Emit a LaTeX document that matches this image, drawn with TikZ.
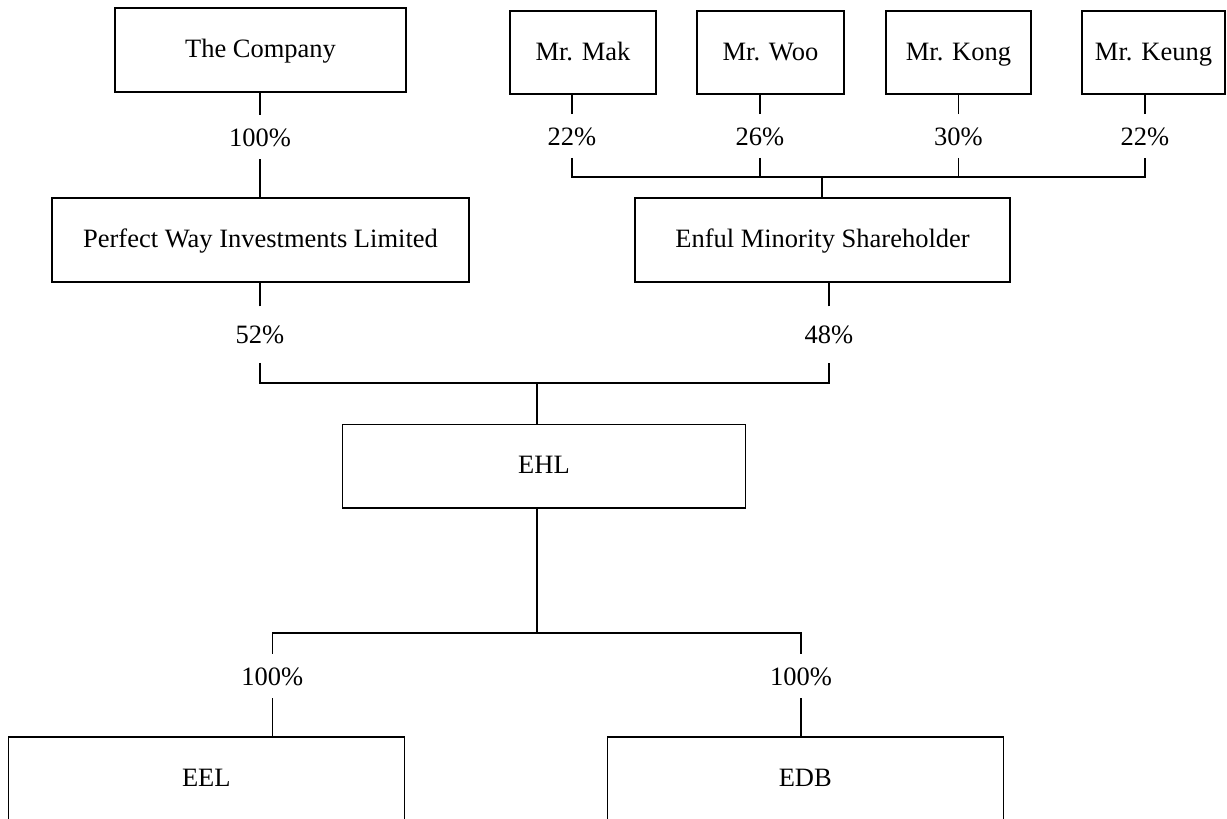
\documentclass[tikz,border=0pt]{standalone}
\usepackage{fontspec}
\setmainfont{Liberation Serif}
\begin{document}
\begin{tikzpicture}[x=1bp,y=-1bp,line width=1.5bp,
  box/.style={draw,rectangle,inner sep=0pt,minimum height=84bp,
    text height=17.5bp,text depth=2bp,
    font=\fontsize{26.6pt}{32pt}\selectfont},
  pct/.style={inner sep=0pt,minimum width=20bp,
    text height=18bp,text depth=0bp,
    font=\fontsize{26.6pt}{32pt}\selectfont}]
\useasboundingbox (0,0) rectangle (1227,819);
\clip (0,0) rectangle (1227,819);

% boxes
\node[box,minimum width=291bp] (comp) at (260.5,50) {The Company};
\node[box,minimum width=417bp] (pwil) at (260.5,240) {Perfect Way Investments Limited};
\node[box,minimum width=146bp,minimum height=83bp] (mak) at (583,52.3) {Mr. Mak};
\node[box,minimum width=147bp,minimum height=83bp] (woo) at (770.5,52.3) {Mr. Woo};
\node[box,minimum width=145bp,minimum height=83bp] (kong) at (958.5,52.3) {Mr. Kong};
\node[box,minimum width=143bp,minimum height=83bp] (keung) at (1153.5,52.3) {Mr. Keung};
\node[box,minimum width=375bp] (enful) at (822.5,240) {Enful Minority Shareholder};
\node[box,minimum width=403bp,minimum height=83.5bp] (ehl) at (544,466) {EHL};
\node[box,minimum width=396bp] (eel) at (206.3,779) {EEL};
\node[box,minimum width=396bp] (edb) at (805.3,779) {EDB};

% percentage labels
\node[pct,minimum height=43bp] (p1) at (260,137) {100\%};
\node[pct,minimum height=42bp] (pmak) at (572,136) {22\%};
\node[pct,minimum height=42bp] (pwoo) at (760,136) {26\%};
\node[pct,minimum height=42bp] (pkong) at (958.5,136) {30\%};
\node[pct,minimum height=42bp] (pkeung) at (1145,136) {22\%};
\node[pct,minimum height=55bp] (p52) at (260,334.5) {52\%};
\node[pct,minimum height=55bp] (p48) at (829,334.5) {48\%};
\node[pct,minimum height=43bp] (peel) at (272.3,676) {100\%};
\node[pct,minimum height=43bp] (pedb) at (801,676) {100\%};

% junctions
\coordinate (jm) at (822,177);
\coordinate (je) at (537,383);
\coordinate (jb) at (537,633);

% The Company -> Perfect Way
\draw (p1.north) -- (p1.north |- comp.south);
\draw (p1.south) -- (p1.south |- pwil.north);

% individuals -> Enful
\draw (pmak.north) -- (pmak.north |- mak.south);
\draw (pwoo.north) -- (pwoo.north |- woo.south);
\draw (pkong.north) -- (pkong.north |- kong.south);
\draw (pkeung.north) -- (pkeung.north |- keung.south);
\draw (pmak.south) |- (jm) -| (pkeung.south);
\draw (pwoo.south) -- (pwoo.south |- jm);
\draw (pkong.south) -- (pkong.south |- jm);
\draw (jm) -- (jm |- enful.north);

% Perfect Way, Enful -> EHL
\draw (p52.north) -- (p52.north |- pwil.south);
\draw (p48.north) -- (p48.north |- enful.south);
\draw (p52.south) |- (je) -| (p48.south);
\draw (je) -- (je |- ehl.north);

% EHL -> EEL, EDB
\draw (jb |- ehl.south) -- (jb);
\draw (peel.north) |- (jb) -| (pedb.north);
\draw (peel.south) -- (peel.south |- eel.north);
\draw (pedb.south) -- (pedb.south |- edb.north);
\end{tikzpicture}
\end{document}
